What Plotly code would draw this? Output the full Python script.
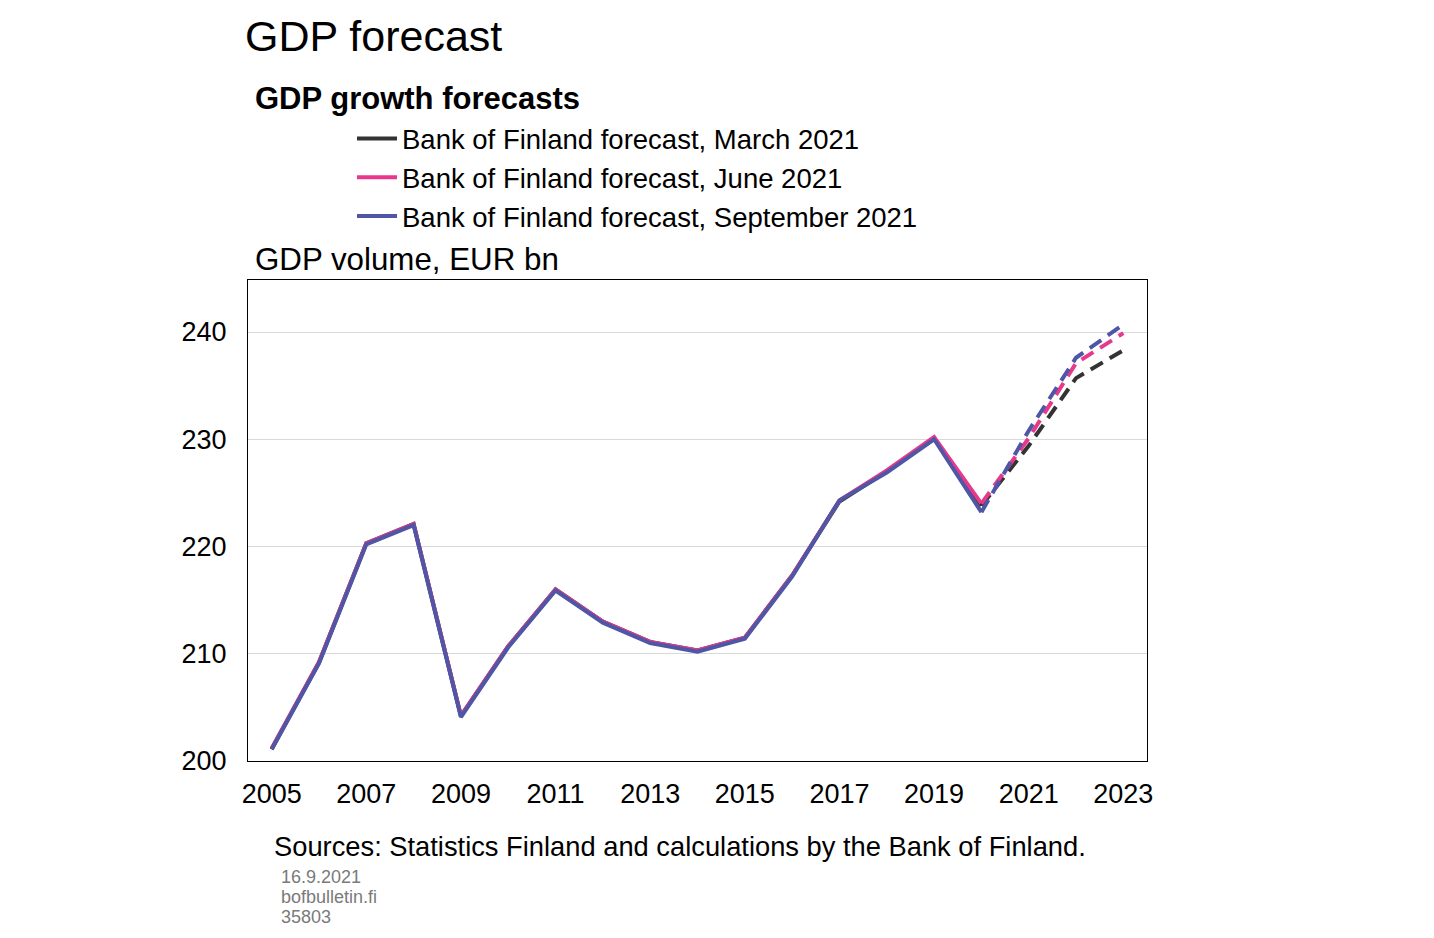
import plotly.graph_objects as go

# GDP volume, EUR bn
years = list(range(2005, 2021))
gdp_march = [201.1, 209.2, 220.3, 222.1, 204.2, 210.7, 216.0, 213.0, 211.1, 210.3, 211.5, 217.3, 224.2, 227.0, 230.1, 223.8]
gdp_june = [201.2, 209.2, 220.3, 222.1, 204.2, 210.7, 216.0, 213.0, 211.1, 210.3, 211.5, 217.3, 224.3, 227.1, 230.2, 224.0]
gdp_sept = [201.1, 209.1, 220.2, 222.0, 204.1, 210.6, 215.9, 212.9, 211.0, 210.2, 211.4, 217.2, 224.3, 226.9, 230.0, 223.2]

fc_years = [2020, 2021, 2022, 2023]
fc_march = [223.8, 229.4, 235.7, 238.3]
fc_june = [224.0, 230.1, 237.1, 239.9]
fc_sept = [223.2, 230.8, 237.6, 240.7]

names = [
    "Bank of Finland forecast, March 2021",
    "Bank of Finland forecast, June 2021",
    "Bank of Finland forecast, September 2021",
]
colors = ["#333333", "#e8388c", "#4f56a6"]

FONT = "Liberation Sans, Arial, sans-serif"

# page offset (body margin) and plot area in screen pixels
OFF = 8
L, R, T, B = 248, 1147, 280, 761
W, H = 1434, 938


def px_x(px):
    return (px - L) / (R - L)


def px_y(py):
    return (B - py) / (B - T)


fig = go.Figure()

for hist, name, color in zip([gdp_march, gdp_june, gdp_sept], names, colors):
    fig.add_trace(
        go.Scatter(
            x=years, y=hist, mode="lines", name=name,
            line=dict(color=color, width=4),
        )
    )
for fc, color in zip([fc_march, fc_june, fc_sept], colors):
    fig.add_trace(
        go.Scatter(
            x=fc_years, y=fc, mode="lines", showlegend=False,
            line=dict(color=color, width=4, dash="14px,8px"),
        )
    )

fig.update_layout(
    width=W,
    height=H,
    margin=dict(l=L - OFF, r=W + OFF - R, t=T - OFF, b=H + OFF - B),
    paper_bgcolor="white",
    plot_bgcolor="white",
    font=dict(family=FONT, size=27, color="black"),
    title=dict(
        text="GDP forecast",
        x=(245 - OFF) / W, xanchor="left", xref="container",
        y=1 - (36 - OFF) / H, yanchor="middle", yref="container",
        font=dict(size=43, family=FONT, color="black"),
    ),
    showlegend=True,
    legend=dict(
        x=px_x(352), xanchor="left",
        y=px_y(114), yanchor="top",
        font=dict(size=27.5, family=FONT),
        bgcolor="rgba(0,0,0,0)",
        itemwidth=40,
        tracegroupgap=0,
    ),
)

fig.update_xaxes(
    range=[2004.5, 2023.5],
    tickmode="array",
    tickvals=list(range(2005, 2024, 2)),
    showgrid=False,
    showline=True, linecolor="black", linewidth=1, mirror=True,
    ticks="", ticklabelstandoff=9,
    tickfont=dict(size=27),
    zeroline=False,
)
fig.update_yaxes(
    range=[200, 244.85],
    tickmode="array",
    tickvals=[200, 210, 220, 230, 240],
    showgrid=True, gridcolor="#d9d9d9", gridwidth=1,
    showline=True, linecolor="black", linewidth=1, mirror=True,
    ticks="", ticklabelstandoff=15,
    tickfont=dict(size=27),
    zeroline=False,
)

fig.add_annotation(
    text="<b>GDP growth forecasts</b>",
    xref="paper", yref="paper", x=px_x(253), y=px_y(98),
    xanchor="left", yanchor="middle", showarrow=False,
    font=dict(size=31, family=FONT, color="black"),
)
fig.add_annotation(
    text="GDP volume, EUR bn",
    xref="paper", yref="paper", x=px_x(253), y=px_y(259),
    xanchor="left", yanchor="middle", showarrow=False,
    font=dict(size=31.3, family=FONT, color="black"),
)
fig.add_annotation(
    text="Sources: Statistics Finland and calculations by the Bank of Finland.",
    xref="paper", yref="paper", x=px_x(272), y=px_y(846),
    xanchor="left", yanchor="middle", showarrow=False,
    font=dict(size=27.3, family=FONT, color="black"),
)
for i, line in enumerate(["16.9.2021", "bofbulletin.fi", "35803"]):
    fig.add_annotation(
        text=line,
        xref="paper", yref="paper", x=px_x(279), y=px_y(877 + 20 * i),
        xanchor="left", yanchor="middle", showarrow=False,
        font=dict(size=18, family=FONT, color="#7a7a7a"),
    )

fig.write_html("out.html")
